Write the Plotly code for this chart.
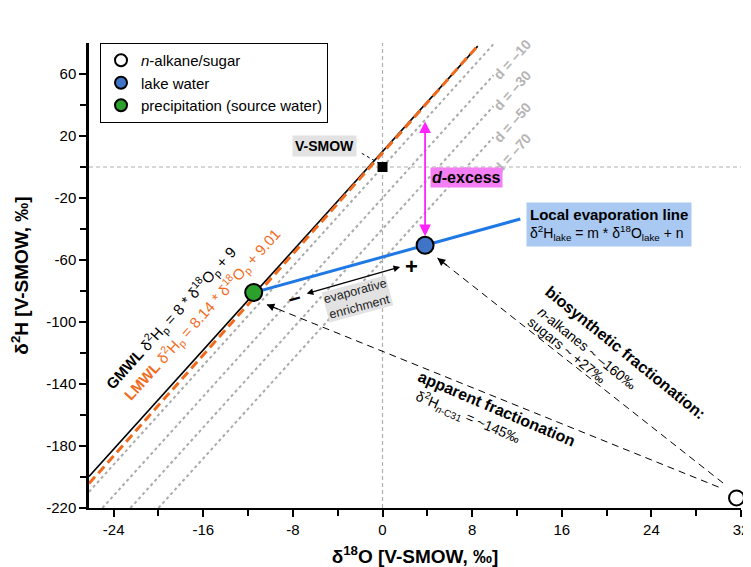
import numpy as np
import plotly.graph_objects as go

# ---------------- data ----------------
x_range = [-26.2, 32]
y_range = [-220, 80]
x_ticks = [-24, -16, -8, 0, 8, 16, 24, 32]
x_ticktext = ["-24", "-16", "-8", "0", "8", "16", "24", "32"]
x_minor = [-20, -12, -4, 4, 12, 20, 28]
y_ticks = [60, 20, -20, -60, -100, -140, -180, -220]
y_ticktext = ["60", "20", "-20", "-60", "-100", "-140", "-180", "-220"]
y_minor = [40, 0, -40, -80, -120, -160, -200]

gmwl_slope, gmwl_int = 8.0, 10.0
lmwl_slope, lmwl_int = 8.14, 9.01
gmwl_x = [-26.2, 8.5]
lmwl_x = [-26.2, 8.45]

d_offsets = [0, -20, -40, -60]            # intercepts of the d-lines (slope 8)
d_labels = ["d = –10", "d = –30", "d = –50", "d = –70"]
d_x_end = 9.9
d_label_x = [11.6, 11.6, 11.6, 11.6]
d_label_y = [86.5, 66.5, 46.0, 26.0]

nalkane = (31.6, -213.5)
lake = (3.8, -50.5)
precip = (-11.5, -81.0)
vsmow = (0.0, 0.0)
evap_x_end = 12.3

bio_tail, bio_head = (30.4, -203.9), (4.9, -58.7)
app_tail, app_head = (30.0, -206.5), (-10.35, -88.7)
enrich_start, enrich_end = (-6.9, -81.9), (1.57, -64.5)

# ---------------- style ----------------
FONT = "Liberation Sans, Arial, sans-serif"
NARROW = "Liberation Sans Narrow, Arial Narrow, Liberation Sans, Arial, sans-serif"
ORANGE = "#f26b1d"
DGRAY = "#aaaaaa"
# the page body has an 8px margin, so the figure is 8px smaller and margins shifted
L, R, T, B, W, H = 81, 10, 35, 59, 743, 559
pxx = (W - L - R) / (x_range[1] - x_range[0])
pxy = (H - T - B) / (y_range[1] - y_range[0])
line_angle = np.degrees(np.arctan(8 * pxy / pxx))


def to_paper_x(x):
    return (x - x_range[0]) / (x_range[1] - x_range[0])


def to_paper_y(y):
    return (y - y_range[0]) / (y_range[1] - y_range[0])


fig = go.Figure()

# reference (V-SMOW) cross-hair
fig.add_trace(go.Scatter(x=x_range, y=[0, 0], mode="lines", showlegend=False,
                         line=dict(color="#b0b0b0", width=1.2, dash="4px,3px"), hoverinfo="skip"))
fig.add_trace(go.Scatter(x=[0, 0], y=y_range, mode="lines", showlegend=False,
                         line=dict(color="#b0b0b0", width=1.2, dash="4px,3px"), hoverinfo="skip"))

# d-lines
for off in d_offsets:
    x0 = max(x_range[0], (y_range[0] - off) / 8.0)
    xs = np.array([x0, d_x_end])
    fig.add_trace(go.Scatter(x=xs, y=8 * xs + off, mode="lines", showlegend=False,
                             line=dict(color=DGRAY, width=2, dash="dot"), hoverinfo="skip"))

# GMWL, LMWL
gx = np.array(gmwl_x)
fig.add_trace(go.Scatter(x=gx, y=gmwl_slope * gx + gmwl_int, mode="lines", showlegend=False,
                         line=dict(color="black", width=1.6), hoverinfo="skip"))
lx = np.array(lmwl_x)
fig.add_trace(go.Scatter(x=lx, y=lmwl_slope * lx + lmwl_int, mode="lines", showlegend=False,
                         line=dict(color=ORANGE, width=3, dash="9px,5px"), hoverinfo="skip"))

# local evaporation line
slope_e = (lake[1] - precip[1]) / (lake[0] - precip[0])
ex = np.array([precip[0], evap_x_end])
fig.add_trace(go.Scatter(x=ex, y=precip[1] + slope_e * (ex - precip[0]), mode="lines",
                         showlegend=False, line=dict(color="#1e78e6", width=3), hoverinfo="skip"))

# dashed fractionation arrows (lines)
for tail, head in [(bio_tail, bio_head), (app_tail, app_head)]:
    fig.add_trace(go.Scatter(x=[tail[0], head[0]], y=[tail[1], head[1]], mode="lines",
                             showlegend=False, line=dict(color="black", width=1, dash="7px,5px"),
                             hoverinfo="skip"))

# V-SMOW leader line
fig.add_trace(go.Scatter(x=[-1.85, -0.4], y=[8.8, 2.8], mode="lines", showlegend=False,
                         line=dict(color="black", width=1, dash="dot"), hoverinfo="skip"))

# V-SMOW square
fig.add_trace(go.Scatter(x=[vsmow[0]], y=[vsmow[1]], mode="markers", showlegend=False,
                         marker=dict(symbol="square", size=10, color="black"), hoverinfo="skip"))

# points (legend)
fig.add_trace(go.Scatter(x=[nalkane[0]], y=[nalkane[1]], mode="markers", name="<i>n</i>-alkane/sugar",
                         marker=dict(size=15, color="white", line=dict(color="black", width=2)),
                         cliponaxis=False))
fig.add_trace(go.Scatter(x=[lake[0]], y=[lake[1]], mode="markers", name="lake water",
                         marker=dict(size=17, color="#3f74c6", line=dict(color="black", width=2)),
                         cliponaxis=False))
fig.add_trace(go.Scatter(x=[precip[0]], y=[precip[1]], mode="markers", name="precipitation (source water)",
                         marker=dict(size=17, color="#2ca02c", line=dict(color="black", width=2)),
                         cliponaxis=False))

ann = []
# d labels (paper coords so they may sit above the plot area)
for lab, x, y in zip(d_labels, d_label_x, d_label_y):
    ann.append(dict(x=to_paper_x(x), y=to_paper_y(y), xref="paper", yref="paper",
                    text="<b>" + lab + "</b>", showarrow=False, textangle=-line_angle,
                    font=dict(family=FONT, size=14, color="#b4b4b4")))

# GMWL / LMWL equations
ann.append(dict(x=-18.9, y=-97.1, showarrow=False, textangle=-line_angle,
                text="<b>GMWL</b> δ<sup>2</sup>H<sub>p</sub> = 8 * δ<sup>18</sup>O<sub>p</sub> + 9",
                font=dict(family=FONT, size=15, color="black")))
ann.append(dict(x=-16.15, y=-95.2, showarrow=False, textangle=-line_angle,
                text="<b>LMWL</b> δ<sup>2</sup>H<sub>p</sub> = 8.14 * δ<sup>18</sup>O<sub>p</sub> + 9.01",
                font=dict(family=FONT, size=15, color=ORANGE)))

# V-SMOW label
ann.append(dict(x=-5.2, y=13.5, showarrow=False, text="<b>V-SMOW</b>", bgcolor="#e2e2e2",
                font=dict(family=FONT, size=14, color="black"), borderpad=2))

# d-excess arrow + label
ann.append(dict(x=lake[0], y=lake[1], ax=lake[0], ay=8 * lake[0], axref="x", ayref="y",
                text="", showarrow=True, arrowside="end+start", arrowhead=2, startarrowhead=2,
                arrowsize=1.3, startarrowsize=1.3, arrowwidth=1.8, arrowcolor="#ff22ff",
                standoff=9, startstandoff=0))
ann.append(dict(x=7.5, y=-6.5, showarrow=False, text="<b><i>d</i>-excess</b>", bgcolor="#f47ef4",
                font=dict(family=FONT, size=16, color="black"), borderpad=1))

# Local evaporation line label
ann.append(dict(x=12.85, y=-37.4, xanchor="left", showarrow=False, align="left", bgcolor="#a9c8f2",
                text="<b><span style='font-size:15px'>Local evaporation line</span></b><br>"
                     "δ<sup>2</sup>H<sub>lake</sub> = m * δ<sup>18</sup>O<sub>lake</sub> + n",
                font=dict(family=FONT, size=14, color="black"), borderpad=3))

# evaporative enrichment
ann.append(dict(x=enrich_end[0], y=enrich_end[1], ax=enrich_start[0], ay=enrich_start[1],
                axref="x", ayref="y", text="", showarrow=True, arrowside="end+start",
                arrowhead=2, startarrowhead=2, arrowsize=1.1, startarrowsize=1.1,
                arrowwidth=1.2, arrowcolor="black", standoff=0, startstandoff=0))
ann.append(dict(x=-2.27, y=-85.2, showarrow=False, textangle=-15, bgcolor="#e2e2e2",
                text="evaporative<br>enrichment", font=dict(family=FONT, size=12.5, color="#222222"),
                borderpad=0))
ann.append(dict(x=2.6, y=-63.9, showarrow=False, text="<b>+</b>",
                font=dict(family=FONT, size=22, color="black")))
ann.append(dict(x=-7.9, y=-83.9, showarrow=False, text="<b>–</b>", textangle=-15,
                font=dict(family=FONT, size=22, color="black")))

# dashed arrow heads
for tail, head in [(bio_tail, bio_head), (app_tail, app_head)]:
    dx = (tail[0] - head[0]) * pxx
    dy = -(tail[1] - head[1]) * pxy
    n = np.hypot(dx, dy)
    ann.append(dict(x=head[0], y=head[1], ax=14 * dx / n, ay=14 * dy / n, text="",
                    showarrow=True, arrowhead=2, arrowsize=1.3, arrowwidth=1.2,
                    arrowcolor="black", standoff=0))

# fractionation texts
ann.append(dict(x=21.66, y=-119.7, showarrow=False, textangle=39,
                text="<b>biosynthetic fractionation:</b>", font=dict(family=FONT, size=16, color="black")))
ann.append(dict(x=18.24, y=-117.0, showarrow=False, textangle=39,
                text="<i>n</i>-alkanes ~ –160‰", font=dict(family=FONT, size=14, color="black")))
ann.append(dict(x=16.46, y=-118.1, showarrow=False, textangle=39,
                text="sugars ~ +27‰", font=dict(family=FONT, size=14, color="black")))
ann.append(dict(x=10.14, y=-156.1, showarrow=False, textangle=23,
                text="<b>apparent fractionation</b>", font=dict(family=FONT, size=16, color="black")))
ann.append(dict(x=7.6, y=-161.6, showarrow=False, textangle=23,
                text="δ<sup>2</sup>H<sub><i>n</i>-C31</sub> = ~145‰",
                font=dict(family=FONT, size=14, color="black")))

fig.update_layout(
    width=W, height=H, margin=dict(l=L, r=R, t=T, b=B, autoexpand=False),
    plot_bgcolor="white", paper_bgcolor="white",
    font=dict(family=FONT, color="black"),
    annotations=ann,
    legend=dict(x=(92 - L) / (W - L - R), y=1.0, xanchor="left", yanchor="top",
                bgcolor="white", bordercolor="black", borderwidth=1,
                font=dict(family=FONT, size=15, color="black"), itemwidth=30,
                itemsizing="constant", tracegroupgap=0),
    xaxis=dict(range=x_range, tickvals=x_ticks, ticktext=x_ticktext, ticks="outside",
               ticklen=7, tickwidth=1.5, tickcolor="black", showline=True, linecolor="black",
               linewidth=1.5, showgrid=False, zeroline=False, automargin=False,
               minor=dict(tickvals=x_minor, ticks="outside", ticklen=6, tickwidth=1.5, tickcolor="black"),
               tickfont=dict(family=NARROW, size=15),
               title=dict(text="<b>δ<sup>18</sup>O [V-SMOW, ‰]</b>", font=dict(family=NARROW, size=19),
                          standoff=13)),
    yaxis=dict(range=y_range, tickvals=y_ticks, ticktext=y_ticktext, ticks="outside",
               ticklen=7, tickwidth=1.5, tickcolor="black", showline=True, linecolor="black",
               linewidth=2.5, showgrid=False, zeroline=False, automargin=False,
               minor=dict(tickvals=y_minor, ticks="outside", ticklen=6, tickwidth=1.5, tickcolor="black"),
               tickfont=dict(family=NARROW, size=15),
               title=dict(text="<b>δ<sup>2</sup>H [V-SMOW, ‰]</b>", font=dict(family=NARROW, size=19),
                          standoff=17)),
)

fig.write_html("out.html")
